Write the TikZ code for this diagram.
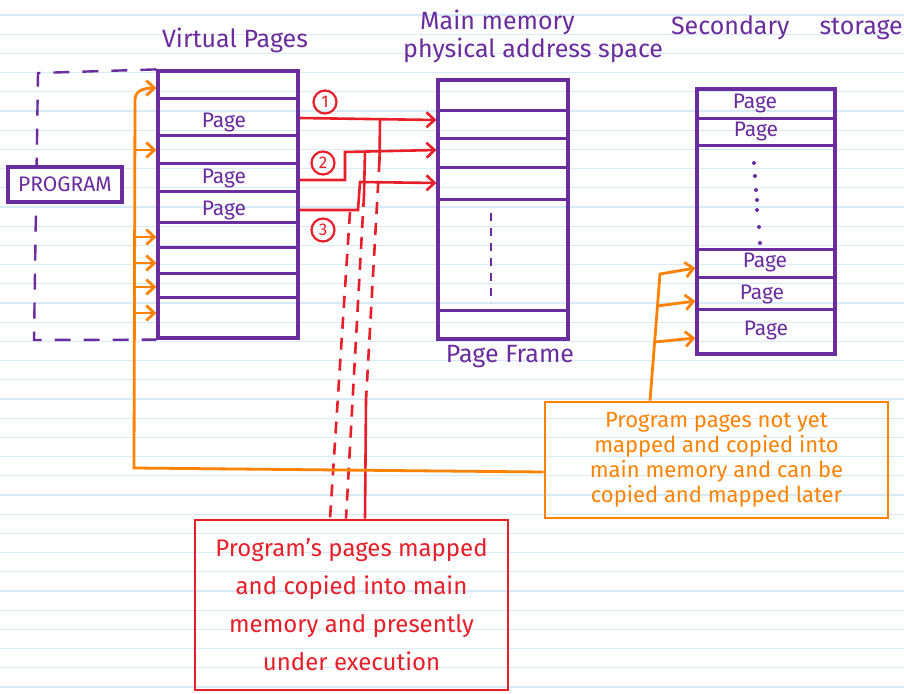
\documentclass[tikz,border=0pt]{standalone}
\usepackage{fontspec}
\setmainfont{Fira Sans}
\usetikzlibrary{arrows.meta,calc}
\definecolor{pur}{HTML}{6A2C9E}
\definecolor{rd}{HTML}{E81E28}
\definecolor{org}{HTML}{FF8203}
\definecolor{ruleblue}{HTML}{D6EAF8}
\tikzset{
  box/.style={draw=pur, line width=3.2pt, inner sep=0pt, rectangle},
  rowline/.style={draw=pur, line width=3pt},
  plabel/.style={text=pur, font=\fontsize{21}{21}\selectfont, inner sep=0pt},
  ttl/.style={text=pur, font=\fontsize{25}{28}\selectfont, align=center, inner sep=0pt},
  redline/.style={draw=rd, line width=2.6pt},
  reddash/.style={redline, dash pattern=on 12pt off 9pt},
  redarrow/.style={redline, -{Straight Barb[length=8pt,width=15pt]}},
  oline/.style={draw=org, line width=2.8pt},
  oarrow/.style={oline, -{Straight Barb[length=8pt,width=15pt]}},
  circnum/.style={circle, draw=rd, line width=2.2pt, text=rd, inner sep=1.5pt, minimum size=23pt, font=\fontsize{17}{17}\selectfont},
}
\begin{document}
\begin{tikzpicture}[x=1pt,y=-1pt]
\useasboundingbox (0,0) rectangle (904,693);
\fill[white] (0,0) rectangle (904,693);
\foreach \k in {0,...,35} \draw[ruleblue, line width=1.3pt] (0,{15+19.2*\k}) -- (904,{15+19.2*\k});

% titles
\node[ttl] (tvp) at (235,40) {Virtual Pages};
\node[ttl, align=left, anchor=west] (tmm) at (403,36) {\hspace*{17pt}Main memory\\physical address space};
\node[ttl, anchor=east] (tss) at (903,28) {Secondary\hspace{30pt}storage};

% virtual pages
\node[box, minimum width=140pt, minimum height=267pt] (vp) at (228,204.5) {};
\foreach \y in {98,135,163,191,222,247,273,297} \draw[rowline] (vp.west |- 0,\y) -- (vp.east |- 0,\y);
\node[plabel] (vp1) at (224,123) {Page};
\node[plabel] (vp2) at (224,179) {Page};
\node[plabel] (vp3) at (224,210) {Page};

% program dashed outline and box
\draw[pur, line width=2.4pt, dash pattern=on 16pt off 13pt] (vp.north west) -- (38,73) -- (34,340) -- (vp.south west);
\node[box, fill=white, minimum width=114pt, minimum height=35pt, text=pur, font=\fontsize{21}{21}\selectfont] (prog) at (65,184.5) {PROGRAM};

% main memory
\node[box, minimum width=130pt, minimum height=259pt] (mm) at (503,209.5) {};
\foreach \y in {110,138,167,199,310} \draw[rowline] (mm.west |- 0,\y) -- (mm.east |- 0,\y);
\draw[pur, line width=1.6pt, dash pattern=on 8pt off 7pt] (491,213) -- (491,303);
\node[ttl] (tpf) at (510,357) {Page Frame};

% secondary storage
\node[box, minimum width=138pt, minimum height=265pt] (ss) at (766,221.5) {};
\foreach \y in {118,145,249,277,309} \draw[rowline] (ss.west |- 0,\y) -- (ss.east |- 0,\y);
\node[plabel] (ss1) at (755,104) {Page};
\node[plabel] (ss2) at (756,132) {Page};
\node[plabel] (ss3) at (765,262) {Page};
\node[plabel] (ss4) at (762,294) {Page};
\node[plabel] (ss5) at (766,330) {Page};
\foreach \x/\y in {754/163,755/176,756/190,757/200,757/210,759/227,760/243} \fill[pur] (\x,\y) circle (2pt);

% red arrows
\node[circnum] (c1) at (325,102) {1};
\node[circnum] (c2) at (323,163) {2};
\node[circnum] (c3) at (323,230) {3};
\coordinate (j1) at (380,119);
\coordinate (j2) at (365,151);
\coordinate (j3) at (350,212);
\draw[redarrow] (vp.east |- 0,118) -- (mm.west |- 0,120);
\draw[redarrow] (vp.east |- 0,180) -- (345,180) -- (345,152) -- (mm.west |- 0,150);
\draw[redarrow] (vp.east |- 0,210) -- (358,210) -- (360,182) -- (mm.west |- 0,183);

% red box
\node[draw=rd, line width=2.8pt, minimum width=313pt, minimum height=170pt, text=rd, align=center, font=\fontsize{24}{38}\selectfont] (rbox) at (351.5,605) {Program's pages mapped\\and copied into main\\memory and presently\\under execution};
\draw[redline] (j1) -- (379.5,160);
\draw[reddash] (379.5,160) -- (366,400);
\draw[redline] (366,400) -- (rbox.north -| 365,0);
\draw[redline] (j2) -- (364,195);
\draw[reddash] (364,195) -- (rbox.north -| 346,0);
\draw[reddash] (j3) -- (rbox.north -| 330,0);

% orange box
\node[draw=org, line width=2.8pt, minimum width=343pt, minimum height=116pt, text=org, align=center, font=\fontsize{22}{25}\selectfont] (obox) at (716.5,460) {Program pages not yet\\mapped and copied into\\main memory and can be\\copied and mapped later};
\coordinate (ocorner) at (134,468);
\draw[oline, -{Straight Barb[length=8pt,width=15pt]}] (obox.west |- 0,472) -- (ocorner) -- (135,100) .. controls (135,90) and (145,88) .. (vp.west |- 0,88);
\foreach \y in {150,237,263,287,313} \draw[oarrow] (135,\y) -- (vp.west |- 0,\y);
\draw[oarrow] (obox.north -| 650,0) -- (660,274) -- (ss.west |- 0,268);
\draw[oarrow] (657.5,306) -- (ss.west |- 0,301);
\draw[oarrow] (654.7,342) -- (ss.west |- 0,338);
\end{tikzpicture}
\end{document}
